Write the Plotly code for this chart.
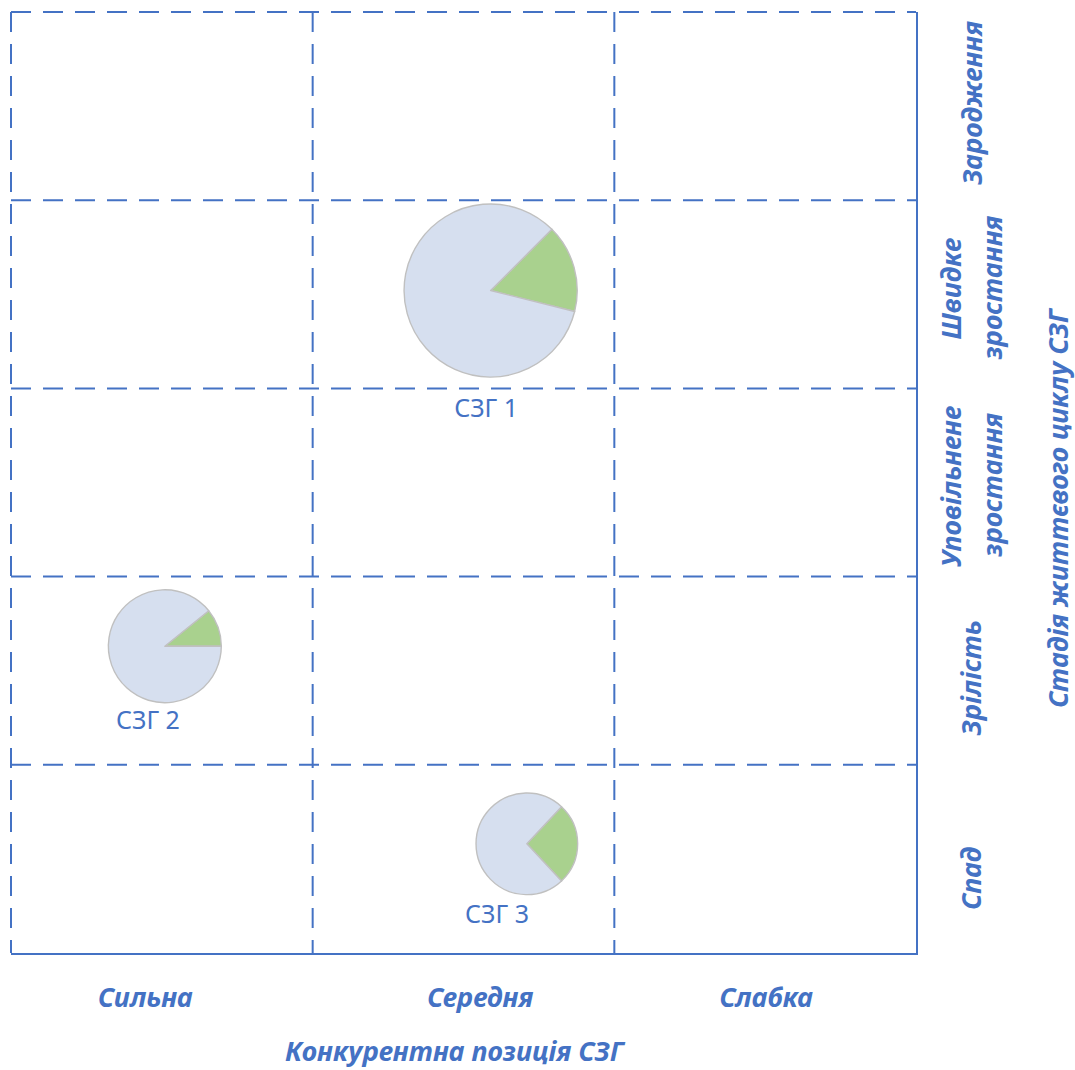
import plotly.graph_objects as go

# ---------------- data ----------------
positions = ["Сильна", "Середня", "Слабка"]                      # competitive position (x categories)
stages = ["Спад", "Зрілість", "Уповільнене<br>зростання",
          "Швидке<br>зростання", "Зародження"]                   # life-cycle stage (y categories, bottom->top)
x_title = "Конкурентна позиція СЗГ"
y_title = "Стадія життєвого циклу СЗГ"

sbu_names = ["СЗГ 1", "СЗГ 2", "СЗГ 3"]
sbu_x = [1.59, 0.51, 1.71]          # position on competitive-position axis
sbu_y = [3.52, 1.63, 0.58]          # position on life-cycle axis
sbu_share = [16.4, 10.8, 26.1]      # highlighted (green) share, %
sbu_size = [0.46, 0.30, 0.27]       # circle radius, in row heights

# ---------------- style ----------------
W, H = 1075, 1070
ML, MR, MT, MB = 11, 159, 12, 117
PW, PH = W - ML - MR, H - MT - MB
BLUE = "#4472C4"
GREEN = "#A9D18E"
PALE = "#D6DFEF"
FONT = "Noto Sans"
pie_rotation = [45, 51, 43]
label_x = [1.575, 0.454, 1.611]
label_y = [2.88, 1.222, 0.191]
x_tick_pos = [0.445, 1.555, 2.503]
stage_shift_px = [19, 7, 3, -6, -3]     # vertical nudge of stage labels (down = +)

nx, ny = len(positions), len(stages)
row_px = PH / ny

fig = go.Figure()

for name, x, y, share, size, rot in zip(sbu_names, sbu_x, sbu_y, sbu_share, sbu_size, pie_rotation):
    r_px = size * row_px
    cx, cy = x / nx, y / ny
    dx, dy = r_px / PW, r_px / PH
    fig.add_trace(go.Pie(
        values=[share, 100 - share],
        labels=["Частка", "Решта"],
        name=name,
        sort=False,
        direction="clockwise",
        rotation=rot,
        textinfo="none",
        hoverinfo="skip",
        showlegend=False,
        marker=dict(colors=[GREEN, PALE], line=dict(color="#C0C0C0", width=1.4)),
        domain=dict(x=[cx - dx, cx + dx], y=[cy - dy, cy + dy]),
    ))

fig.add_trace(go.Scatter(
    x=label_x, y=label_y, mode="text", text=sbu_names,
    textposition="middle center",
    textfont=dict(family=FONT, size=25, color=BLUE),
    hoverinfo="skip", showlegend=False,
))

shapes = []
dash = "20px,12px"
for i in range(nx):
    shapes.append(dict(type="line", xref="paper", yref="paper", x0=i / nx, x1=i / nx, y0=1, y1=0,
                       line=dict(color=BLUE, width=2, dash=dash), layer="below"))
for j in range(1, ny + 1):
    shapes.append(dict(type="line", xref="paper", yref="paper", x0=0, x1=1, y0=j / ny, y1=j / ny,
                       line=dict(color=BLUE, width=2, dash=dash), layer="below"))

annotations = []
label_font = dict(family=FONT, size=27, color=BLUE, weight="bold", style="italic")
center_px = 971
line_gap = 41
for j, lab in enumerate(stages):
    lines = lab.split("<br>")
    n = len(lines)
    for k, line in enumerate(lines):
        px = center_px + (k - (n - 1) / 2) * line_gap
        annotations.append(dict(
            text=line, xref="paper", yref="y", x=(px - ML) / PW, y=j + 0.5,
            yshift=-stage_shift_px[j],
            xanchor="center", yanchor="middle", textangle=-90, showarrow=False,
            font=label_font))
annotations.append(dict(
    text=y_title, xref="paper", yref="paper", x=(1058 - ML) / PW, y=(PH + MT - 508) / PH,
    xanchor="center", yanchor="middle", textangle=-90, showarrow=False, font=label_font))
annotations.append(dict(
    text=x_title, xref="paper", yref="paper", x=(455 - ML) / PW, y=(PH + MT - 1050) / PH,
    xanchor="center", yanchor="middle", showarrow=False, font=label_font, borderpad=0))

fig.update_layout(
    width=W, height=H, autosize=False,
    margin=dict(l=ML, r=MR, t=MT, b=MB, pad=0),
    paper_bgcolor="white", plot_bgcolor="white",
    shapes=shapes, annotations=annotations,
    xaxis=dict(range=[0, nx], showgrid=False, zeroline=False, showline=True,
               linecolor=BLUE, linewidth=2, ticks="",
               tickvals=x_tick_pos, ticktext=positions,
               tickfont=label_font, ticklabelstandoff=20, fixedrange=True),
    yaxis=dict(range=[0, ny], side="right", showgrid=False, zeroline=False, showline=True,
               linecolor=BLUE, linewidth=2, showticklabels=False, ticks="",
               fixedrange=True),
)

fig.write_html("out.html")
